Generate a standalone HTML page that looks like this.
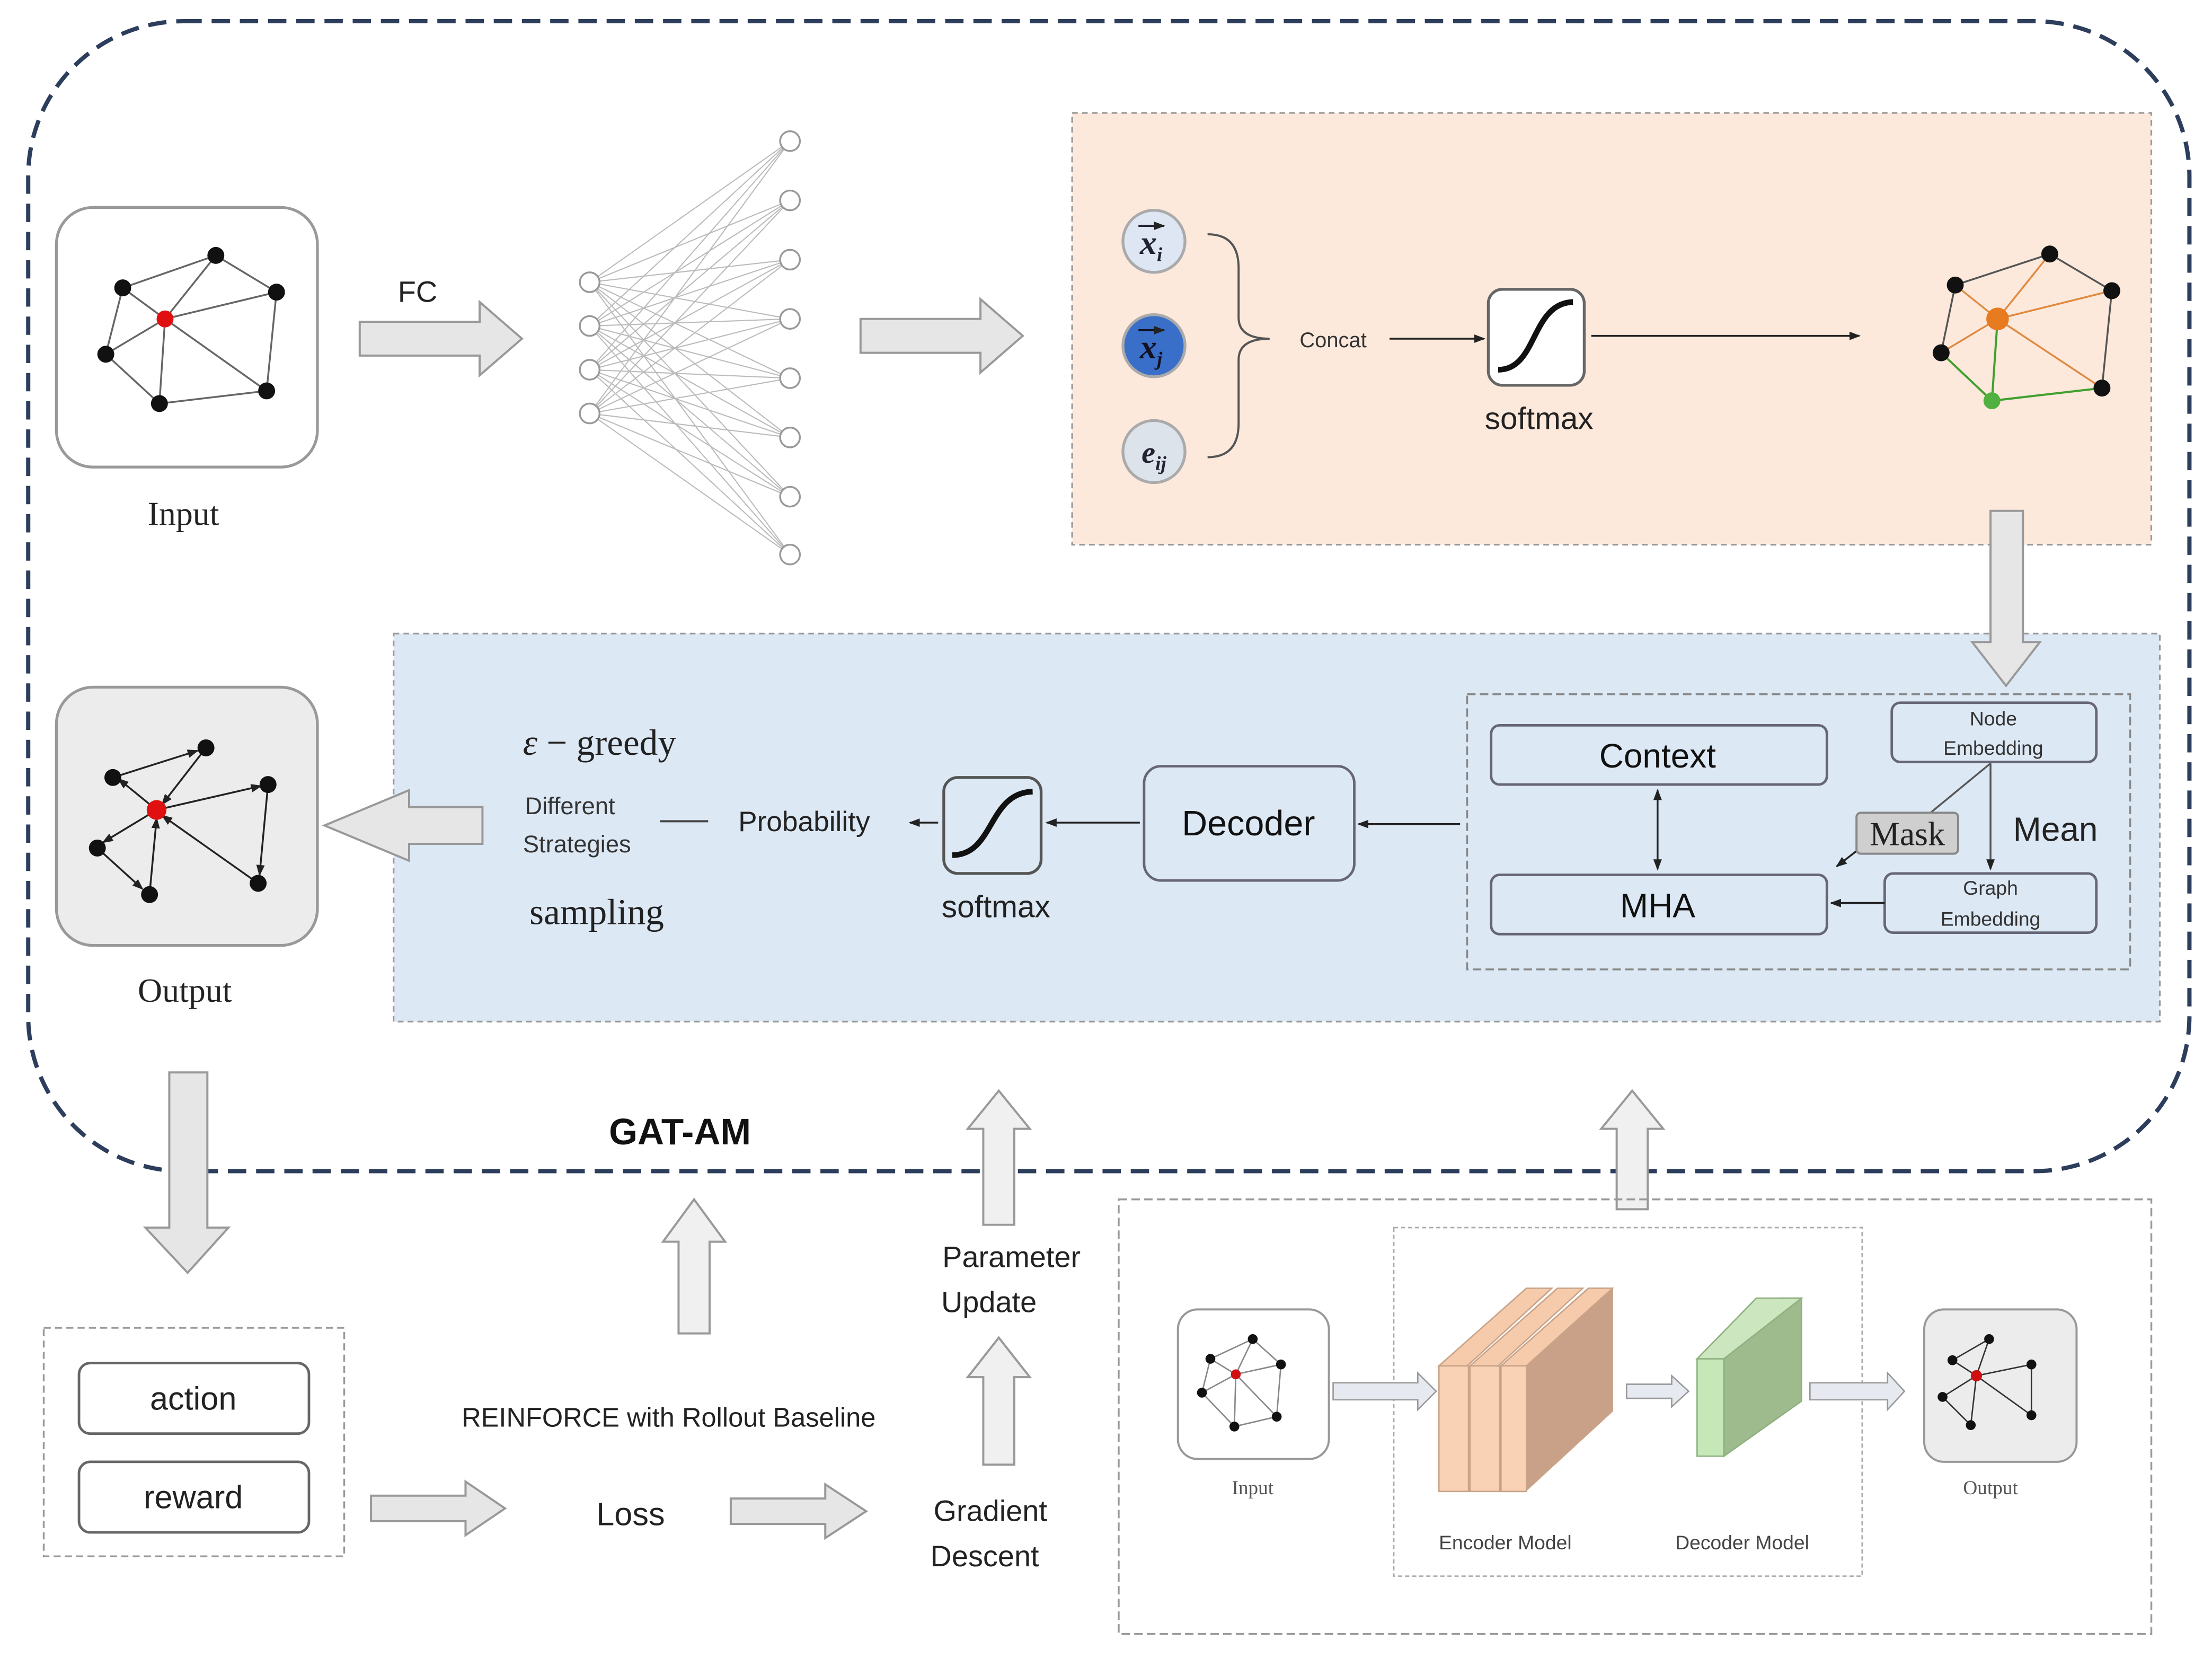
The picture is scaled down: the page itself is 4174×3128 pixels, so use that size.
<!DOCTYPE html>
<html><head><meta charset="utf-8"><style>html,body{margin:0;padding:0;background:#fff}svg{display:block}</style></head>
<body>
<svg width="4174" height="3128" viewBox="0 0 1568 1175" xmlns="http://www.w3.org/2000/svg" font-family="Liberation Sans, sans-serif">
<defs>
<marker id="ah" markerWidth="8" markerHeight="8" refX="7" refY="4" orient="auto" markerUnits="userSpaceOnUse"><path d="M0,1 L8,4 L0,7z" fill="#222"/></marker>
<marker id="ahs" markerWidth="8" markerHeight="8" refX="7" refY="4" orient="auto-start-reverse" markerUnits="userSpaceOnUse"><path d="M0,1 L8,4 L0,7z" fill="#222"/></marker>
</defs>
<rect width="1568" height="1175" fill="#fff"/>
<rect x="20" y="15" width="1532" height="815" rx="110" fill="none" stroke="#2c3e5c" stroke-width="3" stroke-dasharray="13 7"/>

<rect x="40" y="147" width="185" height="184" rx="26" fill="#fff" stroke="#999" stroke-width="2"/>
<g stroke="#666" stroke-width="1.3">
<polyline points="87,204 153,181 196,207 189,277 113,286 75,251 87,204" fill="none"/>
<line x1="117" y1="226" x2="87" y2="204"/><line x1="117" y1="226" x2="153" y2="181"/><line x1="117" y1="226" x2="196" y2="207"/><line x1="117" y1="226" x2="189" y2="277"/><line x1="117" y1="226" x2="113" y2="286"/><line x1="117" y1="226" x2="75" y2="251"/>
</g>
<g fill="#111"><circle cx="87" cy="204" r="6"/><circle cx="153" cy="181" r="6"/><circle cx="196" cy="207" r="6"/><circle cx="75" cy="251" r="6"/><circle cx="113" cy="286" r="6"/><circle cx="189" cy="277" r="6"/></g>
<circle cx="117" cy="226" r="6" fill="#e01010"/>
<text x="130" y="372" font-family="Liberation Serif, serif" font-size="24" text-anchor="middle" fill="#222">Input</text>

<text x="296" y="214" font-size="21" text-anchor="middle" fill="#222">FC</text>
<polygon points="255,228 340,228 340,214 370,240 340,266 340,252 255,252" fill="#e6e6e6" stroke="#999" stroke-width="1.5"/>

<g stroke="#bbb" stroke-width="0.8">
<path d="M418,200L560,100M418,200L560,142M418,200L560,184M418,200L560,226M418,200L560,268M418,200L560,310M418,200L560,352M418,200L560,393
M418,231L560,100M418,231L560,142M418,231L560,184M418,231L560,226M418,231L560,268M418,231L560,310M418,231L560,352M418,231L560,393
M418,262L560,100M418,262L560,142M418,262L560,184M418,262L560,226M418,262L560,268M418,262L560,310M418,262L560,352M418,262L560,393
M418,293L560,100M418,293L560,142M418,293L560,184M418,293L560,226M418,293L560,268M418,293L560,310M418,293L560,352M418,293L560,393"/>
</g>
<g fill="#fff" stroke="#999" stroke-width="1.3">
<circle cx="418" cy="200" r="7"/><circle cx="418" cy="231" r="7"/><circle cx="418" cy="262" r="7"/><circle cx="418" cy="293" r="7"/>
<circle cx="560" cy="100" r="7"/><circle cx="560" cy="142" r="7"/><circle cx="560" cy="184" r="7"/><circle cx="560" cy="226" r="7"/><circle cx="560" cy="268" r="7"/><circle cx="560" cy="310" r="7"/><circle cx="560" cy="352" r="7"/><circle cx="560" cy="393" r="7"/>
</g>
<polygon points="610,226 695,226 695,212 725,238 695,264 695,250 610,250" fill="#e6e6e6" stroke="#999" stroke-width="1.5"/>

<rect x="760" y="80" width="765" height="306" fill="#fce9dc" stroke="#999" stroke-width="1.2" stroke-dasharray="4 3"/>
<circle cx="818" cy="171" r="22" fill="#dde6f2" stroke="#aaa" stroke-width="2"/>
<text x="816" y="180" font-family="Liberation Serif, serif" font-size="24" font-weight="bold" font-style="italic" text-anchor="middle" fill="#223">x<tspan font-size="14" dy="5">i</tspan></text>
<line x1="807" y1="160" x2="825" y2="160" stroke="#223" stroke-width="1.5" marker-end="url(#ah)"/>
<circle cx="818" cy="245" r="22" fill="#3a6fc9" stroke="#aaa" stroke-width="2"/>
<text x="816" y="254" font-family="Liberation Serif, serif" font-size="24" font-weight="bold" font-style="italic" text-anchor="middle" fill="#112">x<tspan font-size="14" dy="5">j</tspan></text>
<line x1="807" y1="234" x2="825" y2="234" stroke="#112" stroke-width="1.5" marker-end="url(#ah)"/>
<circle cx="818" cy="320" r="22" fill="#dde3ea" stroke="#aaa" stroke-width="2"/>
<text x="818" y="328" font-family="Liberation Serif, serif" font-size="22" font-weight="bold" font-style="italic" text-anchor="middle" fill="#223">e<tspan font-size="14" dy="5">ij</tspan></text>
<path d="M856,166 Q878,166 878,190 L878,225 Q878,240 900,240 Q878,240 878,255 L878,300 Q878,324 856,324" fill="none" stroke="#555" stroke-width="1.5"/>
<text x="945" y="246" font-size="15" text-anchor="middle" fill="#333">Concat</text>
<line x1="985" y1="240" x2="1052" y2="240" stroke="#222" stroke-width="1.3" marker-end="url(#ah)"/>
<rect x="1055" y="205" width="68" height="68" rx="10" fill="#fff" stroke="#666" stroke-width="2"/>
<path d="M1062,262 C1090,262 1085,215 1115,214" fill="none" stroke="#111" stroke-width="4"/>
<text x="1091" y="304" font-size="22" text-anchor="middle" fill="#222">softmax</text>
<line x1="1128" y1="238" x2="1318" y2="238" stroke="#222" stroke-width="1.3" marker-end="url(#ah)"/>
<g stroke="#555" stroke-width="1.3" fill="none">
<polyline points="1386,202 1453,180 1497,206 1490,275 1412,284 1376,250 1386,202"/>
</g>
<g stroke="#e08a40" stroke-width="1.3"><line x1="1416" y1="226" x2="1386" y2="202"/><line x1="1416" y1="226" x2="1453" y2="180"/><line x1="1416" y1="226" x2="1497" y2="206"/><line x1="1416" y1="226" x2="1490" y2="275"/><line x1="1416" y1="226" x2="1376" y2="250"/></g>
<g stroke="#40a030" stroke-width="1.5"><line x1="1416" y1="226" x2="1412" y2="284"/><line x1="1490" y1="275" x2="1412" y2="284"/><line x1="1376" y1="250" x2="1412" y2="284"/></g>
<g fill="#111"><circle cx="1386" cy="202" r="6"/><circle cx="1453" cy="180" r="6"/><circle cx="1497" cy="206" r="6"/><circle cx="1376" cy="250" r="6"/><circle cx="1490" cy="275" r="6"/></g>
<circle cx="1412" cy="284" r="6" fill="#50b040"/>
<circle cx="1416" cy="226" r="8" fill="#e87a20"/>

<rect x="279" y="449" width="1252" height="275" fill="#dde8f5" stroke="#999" stroke-width="1.2" stroke-dasharray="4 3"/>
<polygon points="1411,362 1434,362 1434,455 1446,455 1422,486 1398,455 1411,455" fill="#e6e6e6" stroke="#999" stroke-width="1.5"/>
<rect x="1040" y="492" width="470" height="195" fill="none" stroke="#888" stroke-width="1.3" stroke-dasharray="6 3"/>
<g fill="#dde8f5" stroke="#667" stroke-width="1.8">
<rect x="1057" y="514" width="238" height="42" rx="6"/>
<rect x="1057" y="620" width="238" height="42" rx="6"/>
<rect x="1341" y="498" width="145" height="42" rx="6"/>
<rect x="1336" y="619" width="150" height="42" rx="6"/>
</g>
<text x="1175" y="544" font-size="24" text-anchor="middle" fill="#111">Context</text>
<text x="1175" y="650" font-size="24" text-anchor="middle" fill="#111">MHA</text>
<text x="1413" y="514" font-size="14" text-anchor="middle" fill="#333">Node</text>
<text x="1413" y="535" font-size="14" text-anchor="middle" fill="#333">Embedding</text>
<text x="1411" y="634" font-size="14" text-anchor="middle" fill="#333">Graph</text>
<text x="1411" y="656" font-size="14" text-anchor="middle" fill="#333">Embedding</text>
<line x1="1175" y1="560" x2="1175" y2="616" stroke="#222" stroke-width="1.3" marker-start="url(#ahs)" marker-end="url(#ah)"/>
<line x1="1411" y1="541" x2="1411" y2="616" stroke="#555" stroke-width="1.3" marker-end="url(#ah)"/>
<line x1="1411" y1="541" x2="1366" y2="578" stroke="#555" stroke-width="1.3"/>
<line x1="1320" y1="600" x2="1302" y2="614" stroke="#222" stroke-width="1.3" marker-end="url(#ah)"/>
<line x1="1336" y1="640" x2="1298" y2="640" stroke="#222" stroke-width="1.5" marker-end="url(#ah)"/>
<rect x="1316" y="576" width="72" height="29" rx="3" fill="#cfcfcf" stroke="#888" stroke-width="1.5"/>
<text x="1352" y="599" font-family="Liberation Serif, serif" font-size="24" text-anchor="middle" fill="#222">Mask</text>
<text x="1457" y="596" font-size="24" text-anchor="middle" fill="#222">Mean</text>
<line x1="1035" y1="584" x2="963" y2="584" stroke="#222" stroke-width="1.3" marker-end="url(#ah)"/>
<rect x="811" y="543" width="149" height="81" rx="12" fill="#dde8f5" stroke="#667" stroke-width="1.8"/>
<text x="885" y="592" font-size="25" text-anchor="middle" fill="#111">Decoder</text>
<line x1="808" y1="583" x2="742" y2="583" stroke="#222" stroke-width="1.3" marker-end="url(#ah)"/>
<rect x="669" y="551" width="69" height="68" rx="10" fill="#dde8f5" stroke="#555" stroke-width="2"/>
<path d="M675,606 C705,606 700,562 732,561" fill="none" stroke="#111" stroke-width="4"/>
<text x="706" y="650" font-size="22" text-anchor="middle" fill="#222">softmax</text>
<line x1="665" y1="583" x2="645" y2="583" stroke="#222" stroke-width="1.3" marker-end="url(#ah)"/>
<text x="570" y="589" font-size="20" text-anchor="middle" fill="#222">Probability</text>
<line x1="468" y1="582" x2="502" y2="582" stroke="#444" stroke-width="1.5"/>
<text x="404" y="577" font-size="17" text-anchor="middle" fill="#333">Different</text>
<text x="409" y="604" font-size="17" text-anchor="middle" fill="#333">Strategies</text>
<text x="425" y="535" font-family="Liberation Serif, serif" font-size="26" text-anchor="middle" fill="#222"><tspan font-style="italic">ε</tspan> − greedy</text>
<text x="423" y="655" font-family="Liberation Serif, serif" font-size="26" text-anchor="middle" fill="#222">sampling</text>
<polygon points="342,572 290,572 290,560 230,585 290,610 290,598 342,598" fill="#e6e6e6" stroke="#999" stroke-width="1.5"/>

<rect x="40" y="487" width="185" height="183" rx="26" fill="#ececec" stroke="#999" stroke-width="2"/>
<g stroke="#222" stroke-width="1.3">
<line x1="111" y1="574" x2="84" y2="552" marker-end="url(#ah)"/>
<line x1="80" y1="551" x2="140" y2="532" marker-end="url(#ah)"/>
<line x1="146" y1="530" x2="115" y2="570" marker-end="url(#ah)"/>
<line x1="111" y1="574" x2="185" y2="557" marker-end="url(#ah)"/>
<line x1="190" y1="556" x2="184" y2="620" marker-end="url(#ah)"/>
<line x1="183" y1="626" x2="115" y2="578" marker-end="url(#ah)"/>
<line x1="111" y1="574" x2="73" y2="597" marker-end="url(#ah)"/>
<line x1="69" y1="601" x2="101" y2="630" marker-end="url(#ah)"/>
<line x1="106" y1="634" x2="111" y2="580" marker-end="url(#ah)"/>
</g>
<g fill="#111"><circle cx="146" cy="530" r="6"/><circle cx="190" cy="556" r="6"/><circle cx="80" cy="551" r="6"/><circle cx="69" cy="601" r="6"/><circle cx="106" cy="634" r="6"/><circle cx="183" cy="626" r="6"/></g>
<circle cx="111" cy="574" r="7" fill="#e01010"/>
<text x="131" y="710" font-family="Liberation Serif, serif" font-size="24" text-anchor="middle" fill="#222">Output</text>
<text x="482" y="811" font-size="26" font-weight="bold" text-anchor="middle" fill="#111">GAT-AM</text>

<polygon points="120,760 147,760 147,870 162,870 133,902 103,870 120,870" fill="#e6e6e6" stroke="#999" stroke-width="1.5"/>
<rect x="31" y="941" width="213" height="162" fill="none" stroke="#999" stroke-width="1.3" stroke-dasharray="5 3"/>
<rect x="56" y="966" width="163" height="50" rx="8" fill="#fff" stroke="#666" stroke-width="1.8"/>
<rect x="56" y="1036" width="163" height="50" rx="8" fill="#fff" stroke="#666" stroke-width="1.8"/>
<text x="137" y="999" font-size="23" text-anchor="middle" fill="#222">action</text>
<text x="137" y="1069" font-size="23" text-anchor="middle" fill="#222">reward</text>
<polygon points="263,1060 330,1060 330,1050 358,1069 330,1088 330,1078 263,1078" fill="#e6e6e6" stroke="#999" stroke-width="1.5"/>
<polygon points="518,1062 585,1062 585,1052 614,1071 585,1090 585,1080 518,1080" fill="#e6e6e6" stroke="#999" stroke-width="1.5"/>
<text x="474" y="1011" font-size="19" text-anchor="middle" fill="#222">REINFORCE with Rollout Baseline</text>
<text x="447" y="1081" font-size="23" text-anchor="middle" fill="#222">Loss</text>
<text x="702" y="1078" font-size="21" text-anchor="middle" fill="#222">Gradient</text>
<text x="698" y="1110" font-size="21" text-anchor="middle" fill="#222">Descent</text>
<text x="717" y="898" font-size="21" text-anchor="middle" fill="#222">Parameter</text>
<text x="701" y="930" font-size="21" text-anchor="middle" fill="#222">Update</text>
<g fill="#f0f0f0" stroke="#999" stroke-width="1.5">
<polygon points="481,945 503,945 503,880 514,880 492,850 470,880 481,880"/>
<polygon points="697,1038 719,1038 719,976 730,976 708,948 686,976 697,976"/>
<polygon points="697,868 719,868 719,800 730,800 708,773 686,800 697,800"/>
<polygon points="1146,857 1168,857 1168,800 1179,800 1157,773 1135,800 1146,800"/>
</g>

<rect x="793" y="850" width="732" height="308" fill="none" stroke="#999" stroke-width="1.3" stroke-dasharray="6 3"/>
<rect x="988" y="870" width="332" height="247" fill="none" stroke="#aaa" stroke-width="1" stroke-dasharray="3 2"/>
<rect x="835" y="928" width="107" height="106" rx="14" fill="#fff" stroke="#999" stroke-width="1.5"/>
<g stroke="#888" stroke-width="1"><polyline points="858,963 888,949 908,967 905,1004 875,1011 852,987 858,963" fill="none"/><line x1="876" y1="974" x2="858" y2="963"/><line x1="876" y1="974" x2="888" y2="949"/><line x1="876" y1="974" x2="908" y2="967"/><line x1="876" y1="974" x2="905" y2="1004"/><line x1="876" y1="974" x2="875" y2="1011"/><line x1="876" y1="974" x2="852" y2="987"/></g>
<g fill="#111"><circle cx="858" cy="963" r="3.5"/><circle cx="888" cy="949" r="3.5"/><circle cx="908" cy="967" r="3.5"/><circle cx="905" cy="1004" r="3.5"/><circle cx="875" cy="1011" r="3.5"/><circle cx="852" cy="987" r="3.5"/></g>
<circle cx="876" cy="974" r="3.5" fill="#d01010"/>
<text x="888" y="1059" font-family="Liberation Serif, serif" font-size="14" text-anchor="middle" fill="#555">Input</text>
<polygon points="945,980 1005,980 1005,973 1018,986 1005,999 1005,992 945,992" fill="#e6eaf0" stroke="#999" stroke-width="1"/>
<g stroke="#c9a388" stroke-width="1">
<polygon points="1064,968 1126,913 1143,913 1143,1000 1081,1057 1064,1057" fill="#c9a088"/>
<polygon points="1020,968 1082,913 1100,913 1040,968" fill="#f5cbac"/>
<rect x="1020" y="968" width="21" height="89" fill="#f9d2b5"/>
<polygon points="1042,968 1104,913 1122,913 1062,968" fill="#f5cbac"/>
<rect x="1042" y="968" width="21" height="89" fill="#f9d2b5"/>
<polygon points="1064,968 1126,913 1143,913 1082,968" fill="#f5cbac"/>
<rect x="1064" y="968" width="18" height="89" fill="#f9d2b5"/>
</g>
<polygon points="1153,981 1185,981 1185,975 1197,986 1185,997 1185,991 1153,991" fill="#e6eaf0" stroke="#999" stroke-width="1"/>
<g stroke="#8fb080" stroke-width="1">
<polygon points="1222,963 1262,920 1277,920 1277,993 1222,1032" fill="#9dbb8d"/>
<polygon points="1203,963 1245,920 1277,920 1222,963" fill="#cce6bf"/>
<rect x="1203" y="963" width="19" height="69" fill="#c6e8b8"/>
</g>
<polygon points="1283,980 1338,980 1338,973 1350,986 1338,999 1338,992 1283,992" fill="#e6eaf0" stroke="#999" stroke-width="1"/>
<rect x="1364" y="928" width="108" height="108" rx="14" fill="#ececec" stroke="#999" stroke-width="1.5"/>
<g stroke="#333" stroke-width="1"><line x1="1401" y1="975" x2="1384" y2="964"/><line x1="1384" y1="964" x2="1410" y2="949"/><line x1="1410" y1="949" x2="1401" y2="975"/><line x1="1401" y1="975" x2="1440" y2="967"/><line x1="1440" y1="967" x2="1440" y2="1003"/><line x1="1440" y1="1003" x2="1401" y2="975"/><line x1="1401" y1="975" x2="1377" y2="990"/><line x1="1377" y1="990" x2="1397" y2="1010"/><line x1="1397" y1="1010" x2="1401" y2="975"/></g>
<g fill="#111"><circle cx="1384" cy="964" r="3.5"/><circle cx="1410" cy="949" r="3.5"/><circle cx="1440" cy="967" r="3.5"/><circle cx="1440" cy="1003" r="3.5"/><circle cx="1377" cy="990" r="3.5"/><circle cx="1397" cy="1010" r="3.5"/></g>
<circle cx="1401" cy="975" r="4" fill="#d01010"/>
<text x="1411" y="1059" font-family="Liberation Serif, serif" font-size="14" text-anchor="middle" fill="#555">Output</text>
<text x="1067" y="1098" font-size="14" text-anchor="middle" fill="#444">Encoder Model</text>
<text x="1235" y="1098" font-size="14" text-anchor="middle" fill="#444">Decoder Model</text>
</svg>
</body></html>
